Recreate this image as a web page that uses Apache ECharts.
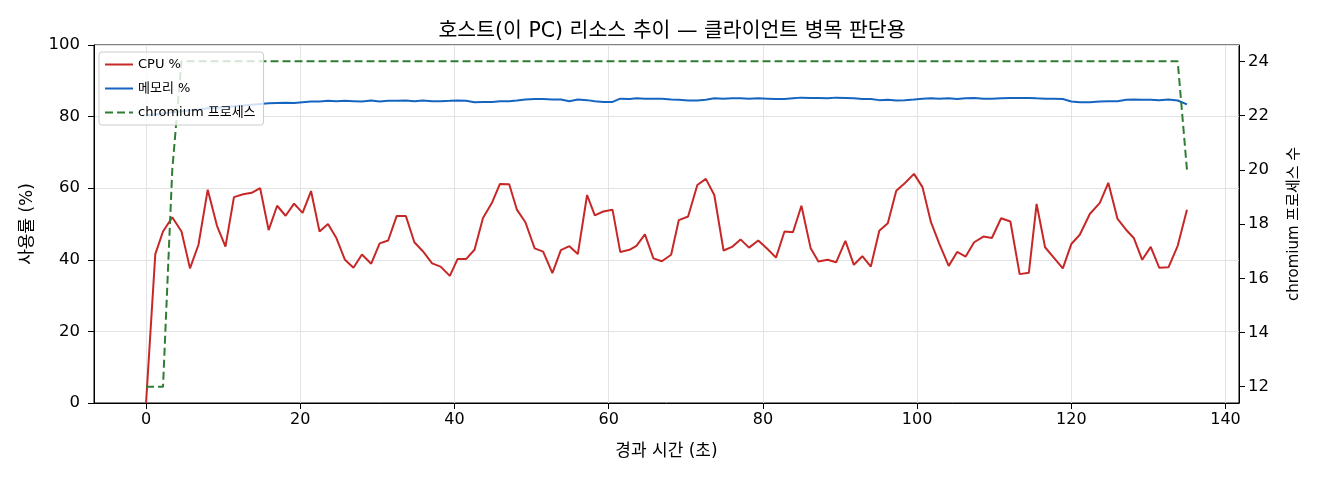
<!DOCTYPE html>
<html>
<head>
<meta charset="utf-8">
<script src="https://cdn.jsdelivr.net/npm/echarts@6/dist/echarts.min.js"></script>
<style>
html,body{margin:0;padding:0;background:#fff;}
#chart{width:1320px;height:480px;}
</style>
</head>
<body>
<div id="chart"></div>
<script>
const titleText = '호스트(이 PC) 리소스 추이 — 클라이언트 병목 판단용';
const xAxisName = '경과 시간 (초)';
const leftAxisName = '사용률 (%)';
const rightAxisName = 'chromium 프로세스 수';
const seriesNames = ['CPU %', '메모리 %', 'chromium 프로세스'];
const xTicks = [0, 20, 40, 60, 80, 100, 120, 140];
const leftTicks = [0, 20, 40, 60, 80, 100];
const rightTicks = [12, 14, 16, 18, 20, 22, 24];

const times = [
  0, 1.2, 2.2, 3.4, 4.6, 5.7, 6.8, 8.0, 9.2, 10.3,
  11.4, 12.6, 13.7, 14.8, 15.9, 17.0, 18.1, 19.2, 20.3, 21.4,
  22.5, 23.6, 24.7, 25.8, 26.9, 28.0, 29.2, 30.3, 31.4, 32.5,
  33.7, 34.8, 35.9, 37.1, 38.2, 39.4, 40.4, 41.5, 42.6, 43.7,
  44.9, 45.9, 47.1, 48.1, 49.2, 50.4, 51.5, 52.7, 53.8, 54.9,
  56.0, 57.2, 58.2, 59.3, 60.5, 61.5, 62.7, 63.6, 64.7, 65.8,
  66.9, 68.1, 69.1, 70.3, 71.5, 72.6, 73.7, 74.9, 76.0, 77.1,
  78.2, 79.4, 80.6, 81.7, 82.8, 83.9, 85.0, 86.2, 87.2, 88.4,
  89.5, 90.7, 91.8, 92.9, 94.0, 95.1, 96.2, 97.3, 98.4, 99.6,
  100.7, 101.8, 102.9, 104.1, 105.2, 106.3, 107.4, 108.6, 109.7, 110.9,
  112.1, 113.3, 114.5, 115.5, 116.6, 117.7, 118.9, 120.0, 121.1, 122.4,
  123.7, 124.8, 126.0, 127.1, 128.1, 129.2, 130.3, 131.4, 132.6, 133.8,
  135.0
];

const cpu = [
  0, 41.6, 47.9, 51.9, 47.9, 37.6, 44.2, 59.6, 49.5, 43.7,
  57.5, 58.3, 58.7, 60.0, 48.3, 55.1, 52.3, 55.7, 53.1, 59.2,
  47.9, 50.0, 46.0, 40.0, 37.8, 41.5, 38.9, 44.6, 45.4, 52.2,
  52.2, 44.9, 42.4, 39.0, 38.1, 35.5, 40.2, 40.2, 42.8, 51.7,
  56.1, 61.2, 61.1, 54.0, 50.5, 43.2, 42.3, 36.3, 42.7, 43.8,
  41.6, 58.1, 52.4, 53.5, 54.0, 42.2, 42.8, 43.9, 47.1, 40.4,
  39.6, 41.4, 51.1, 52.1, 60.9, 62.6, 58.1, 42.6, 43.6, 45.7,
  43.4, 45.4, 43.0, 40.6, 47.9, 47.7, 55.1, 43.2, 39.5, 40.0,
  39.3, 45.3, 38.6, 41.0, 38.1, 48.1, 50.2, 59.3, 61.4, 64.0,
  60.3, 50.5, 44.4, 38.3, 42.2, 40.9, 44.9, 46.5, 46.1, 51.6,
  50.7, 36.0, 36.4, 55.6, 43.5, 40.7, 37.6, 44.4, 47.0, 52.8,
  55.9, 61.5, 51.4, 48.4, 46.1, 40.0, 43.6, 37.8, 37.9, 43.9,
  54.0
];

const memory = [
  80.3, 80.6, 80.9, 81.2, 81.5, 81.8, 82.0, 82.3, 82.5, 82.7,
  82.9, 83.1, 83.3, 83.5, 83.7, 83.8, 83.9, 83.8, 84.0, 84.2,
  84.2, 84.4, 84.3, 84.4, 84.3, 84.2, 84.5, 84.2, 84.4, 84.4,
  84.5, 84.3, 84.5, 84.3, 84.3, 84.4, 84.5, 84.4, 84.0, 84.1,
  84.1, 84.3, 84.3, 84.5, 84.8, 84.9, 84.9, 84.8, 84.8, 84.3,
  84.8, 84.6, 84.3, 84.1, 84.1, 85.0, 84.9, 85.1, 85.0, 85.0,
  85.0, 84.8, 84.7, 84.5, 84.5, 84.7, 85.1, 85.0, 85.1, 85.1,
  85.0, 85.1, 85.0, 84.9, 84.9, 85.1, 85.3, 85.2, 85.2, 85.1,
  85.3, 85.2, 85.1, 84.9, 84.9, 84.6, 84.7, 84.5, 84.6, 84.8,
  85.0, 85.1, 85.0, 85.1, 84.9, 85.1, 85.2, 85.0, 85.0, 85.1,
  85.2, 85.2, 85.2, 85.1, 85.0, 85.0, 84.9, 84.2, 84.0, 84.0,
  84.2, 84.3, 84.3, 84.7, 84.8, 84.7, 84.7, 84.6, 84.8, 84.5,
  83.4
];

const chromium = [
  12, 12, 12, 20, 24, 24, 24, 24, 24, 24,
  24, 24, 24, 24, 24, 24, 24, 24, 24, 24,
  24, 24, 24, 24, 24, 24, 24, 24, 24, 24,
  24, 24, 24, 24, 24, 24, 24, 24, 24, 24,
  24, 24, 24, 24, 24, 24, 24, 24, 24, 24,
  24, 24, 24, 24, 24, 24, 24, 24, 24, 24,
  24, 24, 24, 24, 24, 24, 24, 24, 24, 24,
  24, 24, 24, 24, 24, 24, 24, 24, 24, 24,
  24, 24, 24, 24, 24, 24, 24, 24, 24, 24,
  24, 24, 24, 24, 24, 24, 24, 24, 24, 24,
  24, 24, 24, 24, 24, 24, 24, 24, 24, 24,
  24, 24, 24, 24, 24, 24, 24, 24, 24, 24,
  20
];

const pair = arr => times.map((t, i) => [t, arr[i]]);
const FONT = '"DejaVu Sans", "Noto Sans CJK KR", sans-serif';
const txt = { color: '#000', fontFamily: FONT };

const chart = echarts.init(document.getElementById('chart'), null, { renderer: 'canvas' });
chart.setOption({
  animation: false,
  backgroundColor: '#fff',
  title: {
    text: titleText,
    left: 667, top: 16, textAlign: 'center',
    textStyle: Object.assign({ fontSize: 20.5, fontWeight: 'normal' }, txt)
  },
  legend: {
    orient: 'vertical', left: 99, top: 52, z: 20,
    data: seriesNames,
    itemWidth: 28, itemHeight: 12, itemGap: 11,
    padding: [6, 8, 6, 5],
    backgroundColor: 'rgba(255,255,255,0.8)',
    borderColor: '#cccccc', borderWidth: 1, borderRadius: 3,
    itemStyle: { opacity: 0 },
    textStyle: Object.assign({ fontSize: 13 }, txt)
  },
  grid: {
    left: 94, right: 81, top: 45, bottom: 77,
    show: true, borderColor: '#000', borderWidth: 1, backgroundColor: 'transparent'
  },
  xAxis: {
    type: 'value', min: -6.75, max: 141.75, splitNumber: 7,
    name: xAxisName, nameLocation: 'middle', nameGap: 40,
    nameTextStyle: Object.assign({ fontSize: 17 }, txt),
    axisLine: { show: true, onZero: false, lineStyle: { color: '#000', width: 1 } },
    axisTick: { show: true, length: 6, lineStyle: { color: '#000' }, customValues: xTicks },
    axisLabel: Object.assign({ fontSize: 16, margin: 9, customValues: xTicks }, txt),
    splitLine: { show: true, lineStyle: { color: '#e3e3e3', width: 1 } }
  },
  yAxis: [{
    type: 'value', min: 0, max: 100, interval: 20, position: 'left',
    name: leftAxisName, nameLocation: 'middle', nameGap: 58, nameRotate: 90,
    nameTextStyle: Object.assign({ fontSize: 17 }, txt),
    axisLine: { show: true, onZero: false, lineStyle: { color: '#000', width: 1 } },
    axisTick: { show: true, length: 6, lineStyle: { color: '#000' }, customValues: leftTicks },
    axisLabel: Object.assign({ fontSize: 16.5, margin: 14, customValues: leftTicks }, txt),
    splitLine: { show: true, lineStyle: { color: '#e3e3e3', width: 1 } }
  }, {
    type: 'value', min: 11.4, max: 24.6, splitNumber: 7, position: 'right',
    name: rightAxisName, nameLocation: 'middle', nameGap: 48, nameRotate: 90,
    nameTextStyle: Object.assign({ fontSize: 15 }, txt),
    axisLine: { show: true, onZero: false, lineStyle: { color: '#000', width: 1 } },
    axisTick: { show: true, length: 6, lineStyle: { color: '#000' }, customValues: rightTicks },
    axisLabel: Object.assign({ fontSize: 16.5, margin: 9, customValues: rightTicks }, txt),
    splitLine: { show: false }
  }],
  series: [{
    name: seriesNames[0], type: 'line', yAxisIndex: 0,
    data: pair(cpu), symbol: 'none', showSymbol: false,
    lineStyle: { color: '#c62828', width: 2 }, itemStyle: { color: '#c62828' }, z: 3
  }, {
    name: seriesNames[1], type: 'line', yAxisIndex: 0,
    data: pair(memory), symbol: 'none', showSymbol: false,
    lineStyle: { color: '#1565c0', width: 2 }, itemStyle: { color: '#1565c0' }, z: 3
  }, {
    name: seriesNames[2], type: 'line', yAxisIndex: 1,
    data: pair(chromium), symbol: 'none', showSymbol: false,
    lineStyle: { color: '#2e7d32', width: 2, type: [8, 4] }, itemStyle: { color: '#2e7d32' }, z: 3
  }]
});
</script>
</body>
</html>
